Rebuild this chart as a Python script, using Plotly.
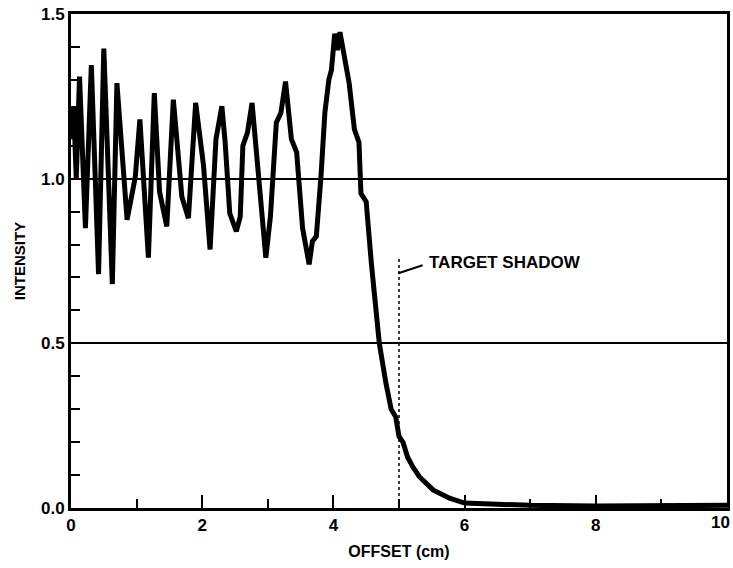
import plotly.graph_objects as go

offset_cm = [0.00, 0.04, 0.08, 0.13, 0.22, 0.31, 0.42, 0.50, 0.63, 0.70, 0.855, 0.98, 1.05,
             1.18, 1.27, 1.35, 1.46, 1.56, 1.69, 1.79, 1.90, 2.02, 2.12, 2.21, 2.30, 2.35,
             2.42, 2.52, 2.58, 2.62, 2.69, 2.76, 2.80, 2.97, 3.04, 3.13, 3.20, 3.27, 3.36,
             3.44, 3.53, 3.63, 3.68, 3.74, 3.81, 3.87, 3.93, 3.97, 4.02, 4.06, 4.10, 4.17, 4.24,
             4.32, 4.39, 4.42, 4.50, 4.58, 4.70, 4.80, 4.88, 4.95, 5.00, 5.06, 5.13, 5.21,
             5.31, 5.52, 5.77, 6.00, 6.5, 7.0, 8.0, 9.0, 10.0]
intensity = [1.12, 1.22, 1.00, 1.31, 0.85, 1.345, 0.71, 1.395, 0.68, 1.29, 0.875, 1.005, 1.18,
             0.76, 1.26, 0.96, 0.855, 1.24, 0.945, 0.88, 1.23, 1.04, 0.785, 1.12, 1.22, 1.11,
             0.895, 0.84, 0.885, 1.10, 1.14, 1.23, 1.14, 0.76, 0.885, 1.17, 1.20, 1.295, 1.12,
             1.08, 0.85, 0.74, 0.81, 0.825, 1.005, 1.20, 1.30, 1.33, 1.44, 1.39, 1.445, 1.36, 1.29,
             1.15, 1.11, 0.955, 0.93, 0.74, 0.50, 0.38, 0.30, 0.277, 0.217, 0.20, 0.155, 0.125,
             0.095, 0.055, 0.03, 0.015, 0.01, 0.008, 0.006, 0.006, 0.008]

x_tickvals = [0, 2, 4, 6, 8, 10]
x_ticktext = ["0", "2", "4", "6", "8", ""]
x_last_label = "10"
y_tickvals = [0.0, 0.5, 1.0, 1.5]
y_ticktext = ["0.0", "0.5", "1.0", "1.5"]

shadow_x = 5.0
shadow_top = 0.76
label_text = "TARGET SHADOW"

FONT = "Liberation Sans, Arial, sans-serif"

fig = go.Figure()
fig.add_trace(go.Scatter(x=offset_cm, y=intensity, mode="lines",
                         line=dict(color="black", width=5), showlegend=False,
                         hoverinfo="skip"))

fig.add_shape(type="line", xref="x", yref="y", x0=shadow_x, x1=shadow_x, y0=0, y1=shadow_top,
              line=dict(color="black", width=1.5, dash="dot"))
fig.add_shape(type="line", xref="x", yref="y", x0=4.99, x1=5.36, y0=0.713, y1=0.737,
              line=dict(color="black", width=2))
fig.add_annotation(x=5.42, y=0.745, xref="x", yref="y", text=label_text, showarrow=False,
                   xanchor="left", yanchor="middle",
                   font=dict(family=FONT, size=17, color="black", weight="bold"))
# last x tick label, kept fully inside the page
fig.add_annotation(x=x_tickvals[-1], y=0, xref="x", yref="y", text=x_last_label,
                   showarrow=False, xanchor="right", yanchor="top", xshift=5, yshift=-3,
                   font=dict(family=FONT, size=17, color="black", weight="bold"))

fig.update_layout(
    width=733, height=568,
    margin=dict(l=71, r=6, t=14, b=60),
    paper_bgcolor="white", plot_bgcolor="white",
    font=dict(family=FONT, color="black", size=16, weight="bold"),
)
fig.update_xaxes(range=[0, 10], tickvals=x_tickvals, ticktext=x_ticktext,
                 ticks="inside", ticklen=13, tickwidth=2, tickcolor="black",
                 minor=dict(dtick=1, ticks="inside", ticklen=9, tickwidth=2, tickcolor="black"),
                 showline=True, linewidth=3, linecolor="black", mirror=True,
                 showgrid=False, zeroline=False, automargin=False,
                 ticklabeloverflow="allow",
                 tickfont=dict(family=FONT, size=17, weight="bold"),
                 title=dict(text="OFFSET (cm)", standoff=12,
                            font=dict(family=FONT, size=16, weight="bold")))
fig.update_yaxes(range=[0, 1.5], tickvals=y_tickvals, ticktext=y_ticktext,
                 ticks="inside", ticklen=10, tickwidth=2, tickcolor="black",
                 minor=dict(dtick=0.1, ticks="inside", ticklen=9, tickwidth=2, tickcolor="black"),
                 showline=True, linewidth=3, linecolor="black", mirror=True,
                 showgrid=True, gridcolor="black", gridwidth=2, zeroline=False,
                 automargin=False,
                 tickfont=dict(family=FONT, size=17, weight="bold"),
                 title=dict(text="INTENSITY", standoff=12,
                            font=dict(family=FONT, size=15, weight="bold")))

fig.write_html("out.html")
